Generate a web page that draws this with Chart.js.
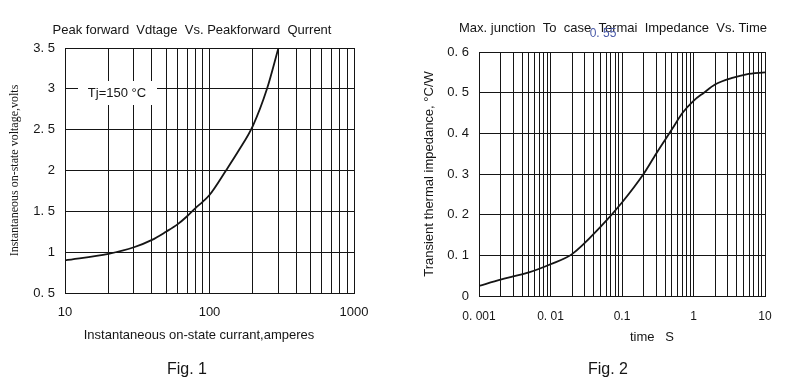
<!DOCTYPE html>
<html>
<head>
<meta charset="utf-8">
<script src="https://cdn.jsdelivr.net/npm/chart.js@4.4.1/dist/chart.umd.min.js"></script>
<style>
  html, body { margin: 0; padding: 0; background: #fff; }
  #wrap { position: relative; width: 792px; height: 391px; }
  .panel { position: absolute; top: 0; width: 396px; height: 391px; }
</style>
</head>
<body>
<div id="wrap">
  <div class="panel" style="left:0"><canvas id="fig1" width="396" height="391"></canvas></div>
  <div class="panel" style="left:396px"><canvas id="fig2" width="396" height="391"></canvas></div>
</div>
<script>
// ── Fig. 1 data: forward voltage vs forward current ──────────────────────
const fwdCurrent = [10, 20, 30, 40, 50, 60, 70, 80, 90, 100, 130, 160, 200, 250, 300];
const fwdVoltage = [0.9, 0.98, 1.06, 1.15, 1.25, 1.34, 1.44, 1.54, 1.62, 1.7, 2.0, 2.25, 2.55, 3.0, 3.5];
const fig1GridX  = [10, 20, 30, 40, 50, 60, 70, 80, 90, 100, 200, 300, 400, 500, 600, 700, 800, 900, 1000];
const fig1LabelX = [10, 100, 1000];
const fig1TextX  = ['10', '100', '1000'];
const fig1TextY  = ['0. 5', '1', '1. 5', '2', '2. 5', '3', '3. 5'];

// ── Fig. 2 data: thermal impedance vs time ───────────────────────────────
const pulseTime = [0.001, 0.002, 0.003, 0.005, 0.01, 0.02, 0.05, 0.1, 0.2, 0.3, 0.5, 0.7, 1, 1.4, 2, 3.6, 5.5, 10];
const impedance = [0.025, 0.04, 0.048, 0.058, 0.078, 0.103, 0.17, 0.23, 0.3, 0.35, 0.41, 0.45, 0.48, 0.5, 0.52, 0.537, 0.545, 0.55];
const fig2GridX  = [0.001, 0.002, 0.003, 0.004, 0.005, 0.006, 0.007, 0.008, 0.009,
                    0.01, 0.02, 0.03, 0.04, 0.05, 0.06, 0.07, 0.08, 0.09,
                    0.1, 0.2, 0.3, 0.4, 0.5, 0.6, 0.7, 0.8, 0.9,
                    1, 2, 3, 4, 5, 6, 7, 8, 9, 10];
const fig2LabelX = [0.001, 0.01, 0.1, 1, 10];
const fig2TextX  = ['0. 001', '0. 01', '0.1', '1', '10'];
const fig2TextY  = ['0', '0. 1', '0. 2', '0. 3', '0. 4', '0. 5', '0. 6'];

const SANS  = '"Liberation Sans", Arial, sans-serif';
const SERIF = '"Liberation Serif", "Times New Roman", serif';
const INK   = '#151515';

Chart.defaults.font.family = SANS;
Chart.defaults.color = INK;

// free text drawn on the canvas (titles, captions, annotation)
const captions = {
  id: 'captions',
  afterDraw(chart, args, opts) {
    const ctx = chart.ctx;
    ctx.save();
    ctx.textAlign = 'center';
    ctx.textBaseline = 'middle';
    (opts.items || []).forEach(it => {
      if (it.clear) {
        ctx.fillStyle = '#fff';
        ctx.fillRect(it.clear[0], it.clear[1], it.clear[2], it.clear[3]);
      }
      ctx.font = it.font;
      ctx.fillStyle = it.color || INK;
      ctx.fillText(it.text, it.x, it.y);
    });
    ctx.restore();
  }
};

function pickLabel(v, values, texts) {
  const i = values.findIndex(d => Math.abs(d - v) / d < 1e-6);
  return i >= 0 ? texts[i] : '';
}

function makeChart(id, cfg) {
  return new Chart(document.getElementById(id), {
    type: 'line',
    data: {
      datasets: [{
        data: cfg.xs.map((x, i) => ({ x, y: cfg.ys[i] })),
        borderColor: INK,
        borderWidth: 1.8,
        pointRadius: 0,
        fill: false,
        cubicInterpolationMode: 'monotone'
      }]
    },
    options: {
      responsive: false,
      animation: false,
      layout: { padding: cfg.padding },
      plugins: {
        legend: { display: false },
        tooltip: { enabled: false },
        captions: { items: cfg.captions }
      },
      scales: {
        x: {
          type: 'logarithmic',
          min: cfg.xMin,
          max: cfg.xMax,
          afterBuildTicks: s => { s.ticks = cfg.gridX.map(v => ({ value: v })); },
          afterFit: s => { s.height = cfg.xHeight; },
          grid: { color: INK, lineWidth: 1, drawTicks: false },
          border: { color: INK, width: 1 },
          ticks: {
            autoSkip: false, maxRotation: 0, padding: cfg.xPad,
            font: { size: cfg.xFont },
            callback: v => pickLabel(v, cfg.labelX, cfg.textX)
          }
        },
        y: {
          type: 'linear',
          min: cfg.yMin,
          max: cfg.yMax,
          afterFit: s => { s.width = cfg.yWidth; },
          grid: { color: INK, lineWidth: 1, drawTicks: false },
          border: { color: INK, width: 1 },
          ticks: {
            stepSize: cfg.yStep, padding: 10,
            font: { size: 13 },
            callback: (v, i) => cfg.textY[i]
          },
          title: {
            display: true,
            text: cfg.yTitle,
            font: cfg.yTitleFont,
            padding: { top: cfg.yTitlePad, bottom: 0 }
          }
        }
      }
    },
    plugins: [captions]
  });
}

makeChart('fig1', {
  xs: fwdCurrent, ys: fwdVoltage,
  xMin: 10, xMax: 1000, yMin: 0.5, yMax: 3.5, yStep: 0.5,
  gridX: fig1GridX, labelX: fig1LabelX, textX: fig1TextX, textY: fig1TextY,
  padding: { top: 48, right: 42, bottom: 0, left: 0 },
  xHeight: 98, yWidth: 65, xPad: 12, xFont: 13,
  yTitle: 'Instantaneous on-state voltage,volts',
  yTitleFont: { family: SERIF, size: 12 }, yTitlePad: 8,
  captions: [
    { text: 'Peak forward  Vdtage  Vs. Peakforward  Qurrent', x: 192, y: 30, font: '13px ' + SANS },
    { text: 'Tj=150 °C', x: 117, y: 93, font: '13px ' + SANS, clear: [78, 81, 79, 24] },
    { text: 'Instantaneous on-state currant,amperes', x: 199, y: 335, font: '13px ' + SANS },
    { text: 'Fig. 1', x: 187, y: 370, font: '16px ' + SANS }
  ]
});

makeChart('fig2', {
  xs: pulseTime, ys: impedance,
  xMin: 0.001, xMax: 10, yMin: 0, yMax: 0.6, yStep: 0.1,
  gridX: fig2GridX, labelX: fig2LabelX, textX: fig2TextX, textY: fig2TextY,
  padding: { top: 52, right: 27, bottom: 0, left: 0 },
  xHeight: 95, yWidth: 83, xPad: 13, xFont: 12,
  yTitle: 'Transient thermal impedance, °C/W',
  yTitleFont: { family: SANS, size: 13 }, yTitlePad: 26,
  captions: [
    { text: 'Max. junction  To  case  Termai  Impedance  Vs. Time', x: 217, y: 28, font: '13px ' + SANS },
    { text: '0. 55', x: 207, y: 34, font: '12px ' + SANS, color: '#4a5aa8' },
    { text: 'time   S', x: 256, y: 337, font: '13px ' + SANS },
    { text: 'Fig. 2', x: 212, y: 370, font: '16px ' + SANS }
  ]
});
</script>
</body>
</html>
